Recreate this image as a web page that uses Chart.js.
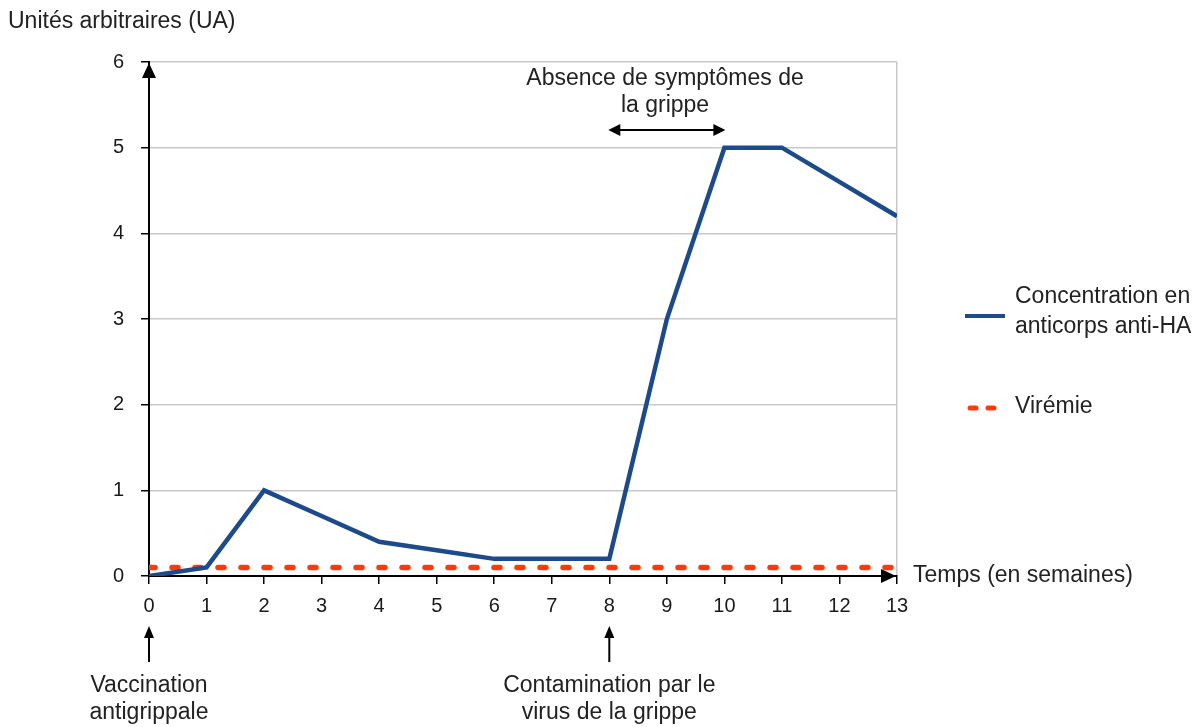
<!DOCTYPE html>
<html>
<head>
<meta charset="utf-8">
<script src="https://cdn.jsdelivr.net/npm/chart.js@4/dist/chart.umd.min.js"></script>
<style>
  body { margin: 0; background: #fff; }
  #wrap { width: 1201px; height: 727px; position: relative; }
</style>
</head>
<body>
<div id="wrap"><canvas id="chart"></canvas></div>
<script>
// weeks on the x axis
const weeks = [0, 1, 2, 3, 4, 5, 6, 7, 8, 9, 10, 11, 12, 13];
// antibody concentration (UA)
const anticorps = [0, 0.1, 1, 0.7, 0.4, 0.3, 0.2, 0.2, 0.2, 3, 5, 5, 4.6, 4.2];
// viremia (UA)
const viremie = [0.1, 0.1, 0.1, 0.1, 0.1, 0.1, 0.1, 0.1, 0.1, 0.1, 0.1, 0.1, 0.1, 0.1];

const yTicks = [0, 1, 2, 3, 4, 5, 6];
const seriesNames = ['Concentration en anticorps anti-HA', 'Virémie'];
const legendLines = [['Concentration en', 'anticorps anti-HA'], ['Virémie']];

const BLUE = '#1d4a8a';
const RED = '#ff3a0a';
const FONT = '"Liberation Sans", Arial, sans-serif';

function arrowHead(ctx, x, y, dir, len, half) {
  // dir: 'up', 'right', 'left'
  ctx.beginPath();
  ctx.moveTo(x, y);
  if (dir === 'up') { ctx.lineTo(x - half, y + len); ctx.lineTo(x + half, y + len); }
  if (dir === 'right') { ctx.lineTo(x - len, y - half); ctx.lineTo(x - len, y + half); }
  if (dir === 'left') { ctx.lineTo(x + len, y - half); ctx.lineTo(x + len, y + half); }
  ctx.closePath();
  ctx.fill();
}

const annotations = {
  id: 'annotations',
  afterDraw(chart) {
    const ctx = chart.ctx;
    const xs = chart.scales.x;
    const area = chart.chartArea;
    ctx.save();
    ctx.fillStyle = '#222';
    ctx.strokeStyle = '#000';
    ctx.font = '23px ' + FONT;

    // axis titles
    ctx.textAlign = 'left';
    ctx.textBaseline = 'middle';
    ctx.fillText('Unités arbitraires (UA)', 8, 22);
    ctx.fillText('Temps (en semaines)', area.right + 16, area.bottom);

    // axis arrows
    ctx.fillStyle = '#000';
    arrowHead(ctx, area.left, area.top + 1, 'up', 15, 7);
    arrowHead(ctx, area.right - 1, area.bottom, 'right', 15, 7);

    // symptoms annotation
    const x8 = xs.getPixelForValue(8);
    const x10 = xs.getPixelForValue(10);
    ctx.lineWidth = 2;
    ctx.beginPath();
    ctx.moveTo(x8 + 6, 130);
    ctx.lineTo(x10 - 6, 130);
    ctx.stroke();
    arrowHead(ctx, x8 - 1, 130, 'left', 12, 6);
    arrowHead(ctx, x10 + 1, 130, 'right', 12, 6);
    ctx.fillStyle = '#222';
    ctx.textAlign = 'center';
    ctx.fillText('Absence de symptômes de', 665, 79);
    ctx.fillText('la grippe', 665, 106);

    // event arrows below the axis
    [[0, ['Vaccination', 'antigrippale']], [8, ['Contamination par le', 'virus de la grippe']]].forEach(([w, lines]) => {
      const px = xs.getPixelForValue(w);
      ctx.strokeStyle = '#000';
      ctx.fillStyle = '#000';
      ctx.lineWidth = 2;
      ctx.beginPath();
      ctx.moveTo(px, 662);
      ctx.lineTo(px, 636);
      ctx.stroke();
      arrowHead(ctx, px, 626, 'up', 12, 5);
      ctx.fillStyle = '#222';
      ctx.fillText(lines[0], px, 686);
      ctx.fillText(lines[1], px, 713);
    });

    // legend
    ctx.textAlign = 'left';
    ctx.lineWidth = 4;
    ctx.strokeStyle = BLUE;
    ctx.beginPath();
    ctx.moveTo(965, 316);
    ctx.lineTo(1005, 316);
    ctx.stroke();
    ctx.fillText(legendLines[0][0], 1015, 297);
    ctx.fillText(legendLines[0][1], 1015, 327);

    ctx.strokeStyle = RED;
    ctx.lineWidth = 5;
    ctx.lineCap = 'round';
    ctx.setLineDash([6, 12]);
    ctx.beginPath();
    ctx.moveTo(970, 408);
    ctx.lineTo(1000, 408);
    ctx.stroke();
    ctx.setLineDash([]);
    ctx.fillText(legendLines[1][0], 1015, 407);
    ctx.restore();
  }
};

const ctxEl = document.getElementById('chart');
const chart = new Chart(ctxEl, {
  type: 'line',
  data: {
    labels: weeks,
    datasets: [
      {
        label: seriesNames[1],
        data: weeks.map((w, i) => ({ x: w, y: viremie[i] })),
        borderColor: RED,
        borderWidth: 5.5,
        borderDash: [6, 17],
        borderCapStyle: 'round',
        pointRadius: 0,
        tension: 0,
        order: 2
      },
      {
        label: seriesNames[0],
        data: weeks.map((w, i) => ({ x: w, y: anticorps[i] })),
        borderColor: BLUE,
        borderWidth: 4.5,
        borderJoinStyle: 'miter',
        pointRadius: 0,
        tension: 0,
        order: 1
      }
    ]
  },
  options: {
    responsive: true,
    maintainAspectRatio: false,
    animation: false,
    layout: { padding: { left: 0, right: 304, top: 62, bottom: 0 } },
    plugins: { legend: { display: false }, tooltip: { enabled: false } },
    scales: {
      x: {
        type: 'linear',
        min: 0,
        max: 13,
        afterFit(scale) { scale.height = 151; },
        ticks: {
          stepSize: 1,
          autoSkip: false,
          padding: 10,
          color: '#1a1a1a',
          font: { family: FONT, size: 20 }
        },
        grid: {
          color: c => (c.tick && c.tick.value === 13 ? '#c8c8c8' : 'rgba(0,0,0,0)'),
          tickColor: '#000',
          tickLength: 8,
          lineWidth: 1.5
        },
        border: { display: true, color: '#000', width: 2 }
      },
      y: {
        min: 0,
        max: 6,
        afterFit(scale) { scale.width = 149; },
        afterBuildTicks(scale) { scale.ticks = yTicks.map(v => ({ value: v })); },
        ticks: {
          padding: 17,
          color: '#1a1a1a',
          font: { family: FONT, size: 20 }
        },
        grid: {
          color: '#c8c8c8',
          tickColor: '#000',
          tickLength: 8,
          lineWidth: 1.5
        },
        border: { display: true, color: '#000', width: 2 }
      }
    }
  },
  plugins: [annotations]
});
</script>
</body>
</html>
